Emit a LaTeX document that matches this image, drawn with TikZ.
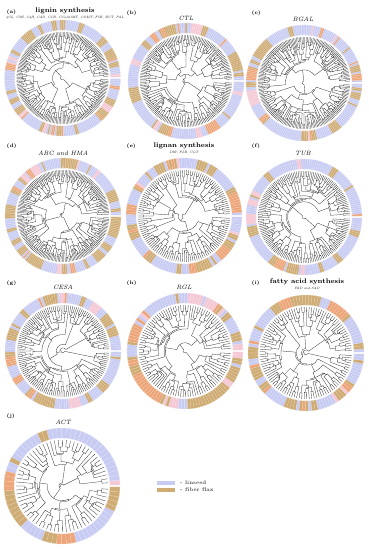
\documentclass[tikz,border=0pt]{standalone}
\usetikzlibrary{positioning}
\definecolor{linseed}{HTML}{C8CCF3}
\definecolor{fiberflax}{HTML}{CFAC74}
\definecolor{ringorange}{HTML}{EDA679}
\definecolor{ringpink}{HTML}{F4C8D4}
\newcommand{\Rleaf}{46}
\newcommand{\Rin}{48}
\newcommand{\Rout}{58}
% one clade of a circular tree: start angle, end angle, node radius
\newcommand{\clade}[3]{%
  \begingroup
  \pgfmathsetmacro\cla{#1}\pgfmathsetmacro\clb{#2}\pgfmathsetmacro\clr{#3}%
  \pgfmathtruncatemacro\cln{round((\clb-\cla)/\lstep)}%
  \ifnum\cln<2
    \pgfmathsetmacro\clm{(\cla+\clb)/2}%
    \draw[br] (\clm:\clr) -- (\clm:\Rleaf);
  \else
    \pgfmathtruncatemacro\clk{min(\cln-1,1+floor(rnd*(\cln-1)))}%
    \pgfmathsetmacro\cls{\cla+\clk*((\clb-\cla)/\cln)}%
    \pgfmathsetmacro\cone{(\cla+\cls)/2}\pgfmathsetmacro\ctwo{(\cls+\clb)/2}%
    \pgfmathsetmacro\rone{min(\Rleaf,max(\clr+1.2,\Rleaf-\hgt*ln(\clk)*(0.7+0.5*rnd)))}%
    \pgfmathsetmacro\rtwo{min(\Rleaf,max(\clr+1.2,\Rleaf-\hgt*ln(\cln-\clk)*(0.7+0.5*rnd)))}%
    \draw[br] (\cone:\rone) -- (\cone:\clr)
      arc[start angle=\cone,end angle=\ctwo,radius=\clr] -- (\ctwo:\rtwo);
    \edef\cladenext{\noexpand\clade{\cla}{\cls}{\rone}}\cladenext
    \edef\cladenext{\noexpand\clade{\cls}{\clb}{\rtwo}}\cladenext
  \fi
  \endgroup}
% coloured outer ring, one block per leaf
\newcommand{\ringsegs}{%
  \xdef\curc{0}%
  \pgfmathtruncatemacro\nseg{round(358/\lstep)}%
  \pgfmathsetmacro\segw{358/\nseg}%
  \foreach \k in {1,...,\nseg}{%
    \pgfmathsetmacro\sa{1+(\k-1)*\segw}%
    \pgfmathsetmacro\sb{\sa+\segw}%
    \pgfmathtruncatemacro\keepit{rnd<0.55 ? 1 : 0}%
    \ifnum\keepit=0
      \pgfmathsetmacro\rv{rnd}%
      \pgfmathtruncatemacro\ci{\rv<0.52 ? 0 : (\rv<0.82 ? 1 : (\rv<0.93 ? 2 : 3))}%
      \xdef\curc{\ci}%
    \fi
    \edef\segcol{\ifcase\curc linseed\or fiberflax\or ringorange\else ringpink\fi}%
    \filldraw[fill=\segcol,draw=\segcol!50!white,line width=0.15pt]
      (\sa:\Rin) arc[start angle=\sa,end angle=\sb,radius=\Rin]
      -- (\sb:\Rout) arc[start angle=\sb,end angle=\sa,radius=\Rout] -- cycle;
  }}
% whole panel: centre x, centre y, seed, leaf step (deg)
\newcommand{\phylo}[4]{%
  \begin{scope}[shift={(#1,#2)}]
    \pgfmathsetseed{#3}\def\lstep{#4}%
    \pgfmathsetmacro\hgt{44/ln(358/#4)}%
    \ringsegs
    \clade{1.5}{358.5}{2}
  \end{scope}}

\begin{document}
\begin{tikzpicture}[x=1pt,y=1pt,
  br/.style={line width=0.28pt,black!85},
  lbl/.style={anchor=west,font=\fontsize{5}{6}\selectfont\bfseries},
  ttl/.style={font=\fontsize{6.8}{8}\selectfont\bfseries},
  gene/.style={font=\fontsize{6.2}{7}\selectfont\itshape},
  sub/.style={font=\fontsize{3.3}{4}\selectfont\itshape},
  swatch/.style={minimum width=18pt,minimum height=4pt,inner sep=0pt}]
\useasboundingbox (0,0) rectangle (368,550);
\fill[white] (0,0) rectangle (368,550);
% row 1
\phylo{62.5}{472}{11}{1.8}
\phylo{186}{469}{23}{2.0}
\phylo{304}{467}{37}{1.8}
\node[lbl] (la) at (3,538) {(a)};
\node[ttl] (ta) at (65,539) {lignin synthesis};
\node[sub] (sa) at (65,532) {4CL, C3H, C4H, CAD, CCR, CCoAOMT, COMT, F5H, HCT, PAL};
\node[lbl] (lb) at (123,537) {(b)};
\node[gene] (tb) at (186,532) {CTL};
\node[lbl] (lc) at (248,537) {(c)};
\node[gene] (tc) at (303,531) {BGAL};
% row 2
\phylo{63}{334}{41}{1.8}
\phylo{184}{334}{57}{2.7}
\phylo{304}{333}{63}{2.2}
\node[lbl] (ld) at (3,404) {(d)};
\node[gene] (td) at (63,397) {ABC and HMA};
\node[lbl] (le) at (123,404) {(e)};
\node[ttl] (te) at (184,404) {lignan synthesis};
\node[sub] (se) at (184,397) {DIR, PLR, UGT};
\node[lbl] (lf) at (248,404) {(f)};
\node[gene] (tf) at (303,397) {TUB};
% row 3
\phylo{63}{199}{71}{2.5}
\phylo{185}{199}{89}{3.2}
\phylo{306}{197}{97}{3.2}
\node[lbl] (lg) at (3,267) {(g)};
\node[gene] (tg) at (63,263) {CESA};
\node[lbl] (lh) at (123,267) {(h)};
\node[gene] (th) at (184,263) {RGL};
\node[lbl] (li) at (248,267) {(i)};
\node[ttl] (ti) at (307,268) {fatty acid synthesis};
\node[sub] (si) at (307,262) {FAD and SAD};
% row 4 and legend
\phylo{62}{64}{103}{5}
\node[lbl] (lj) at (3,134) {(j)};
\node[gene] (tj) at (63,128) {ACT};
\node[swatch,fill=linseed] (sw1) at (166,67) {};
\node[swatch,fill=fiberflax] (sw2) at (166,60) {};
\node[lbl,font=\fontsize{5.2}{6}\selectfont,right=1.5pt of sw1] (ks) {- linseed};
\node[lbl,font=\fontsize{5.2}{6}\selectfont,right=1.5pt of sw2] (kf) {- fiber flax};
\end{tikzpicture}
\end{document}
